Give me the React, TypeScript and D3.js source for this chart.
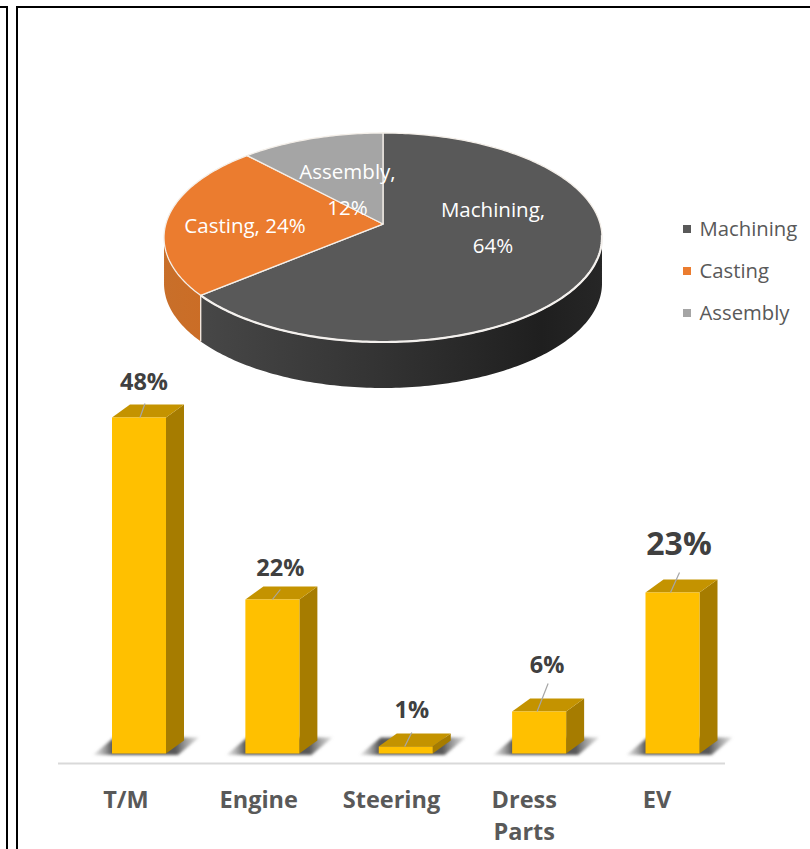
import React from "react";
import * as d3 from "d3";

const pieNames = ["Machining", "Casting", "Assembly"];
const pieValues = [64, 24, 12];
const pieColors = ["#595959", "#eb7c2f", "#a5a5a5"];
const wallFills = ["url(#wallDark)", "url(#wallOrange)", "#7c7c7c"];
const barCategories = ["T/M", "Engine", "Steering", "Dress Parts", "EV"];
const barValues = [48, 22, 1, 6, 23];

const FONT = "'Open Sans', 'Noto Sans', sans-serif";
const cx = 383, cy = 237.5, rx = 219, ry = 104.5, tilt = 0.129, wall = 46;
const project = (a: number): [number, number] => {
  const x = Math.sin(a), y = -Math.cos(a);
  const d = 1 - tilt * y;
  return [cx + rx * (x * Math.sqrt(1 - tilt * tilt)) / d, cy + ry * (y - tilt) / d];
};
const apex: [number, number] = [cx, cy - ry * tilt];
const slices = d3.pie<number>().sort(null)(pieValues);
const line = d3.line();
const arcPts = (s: number, e: number) => {
  const n = Math.max(2, Math.ceil((e - s) * 60));
  return d3.range(n + 1).map((i) => project(s + ((e - s) * i) / n));
};

const xBar = d3.scalePoint<string>().domain(barCategories).range([126, 659.5]);
const xLabel = d3.scalePoint<string>().domain(barCategories).range([126, 657]);
const baseY = 753.5;
const y = d3.scaleLinear().domain([0, 48]).range([baseY, 417.5]);
const halfW = 27, shift = 13, dx = 18, dy = 13;
// label placement relative to the front face of each bar
const labelOffset = [
  { lx: 5, ly: -28, size: 23.5, from: [1, 0], to: [6, -14] },
  { lx: 8, ly: -24, size: 23.5, from: [0, 0], to: [8, -10] },
  { lx: 6, ly: -29, size: 23.5, from: [-1, 0], to: [6, -14] },
  { lx: 8, ly: -39, size: 23.5, from: [-2, 0], to: [9, -28] },
  { lx: 6.5, ly: -38, size: 32, from: [-2, 0], to: [7, -20] },
];
const pieLabels = [
  { lines: ["Machining,", "64%"], x: 493, y: [217, 253] },
  { lines: ["Casting, 24%"], x: 245, y: [233] },
  { lines: ["Assembly,", "12%"], x: 347.5, y: [179, 215] },
];

export default function App() {
  const rim = arcPts(slices[0].startAngle, slices[1].startAngle).filter((p) => p[1] >= cy - 4);
  return (
    <svg width={810} height={849} style={{ position: "absolute", left: 0, top: 0, display: "block", background: "#fff", fontFamily: FONT }}>
      <defs>
        <linearGradient id="wallDark" gradientUnits="userSpaceOnUse" x1={200} x2={602} y1={0} y2={0}>
          <stop offset="0" stopColor="#474747" />
          <stop offset="0.45" stopColor="#333333" />
          <stop offset="0.85" stopColor="#1f1f1f" />
          <stop offset="1" stopColor="#262626" />
        </linearGradient>
        <linearGradient id="wallOrange" gradientUnits="userSpaceOnUse" x1={164} x2={202} y1={0} y2={0}>
          <stop offset="0" stopColor="#c86f2a" />
          <stop offset="1" stopColor="#cb6d26" />
        </linearGradient>
        <linearGradient id="shadowG" x1="0" x2="1" y1="0" y2="0">
          <stop offset="0" stopColor="#999" stopOpacity="0.2" />
          <stop offset="0.18" stopColor="#4f4f4f" stopOpacity="0.95" />
          <stop offset="0.78" stopColor="#4f4f4f" stopOpacity="0.95" />
          <stop offset="1" stopColor="#888" stopOpacity="0.25" />
        </linearGradient>
        <filter id="blur" x="-20%" y="-50%" width="140%" height="200%">
          <feGaussianBlur stdDeviation="1.6" />
        </filter>
      </defs>

      {/* page frames */}
      <path d="M0 7H7V849" fill="none" stroke="#000" strokeWidth={2} />
      <path d="M810 7H17V849" fill="none" stroke="#000" strokeWidth={2} />

      {/* pie walls */}
      {slices.map((s, i) => {
        const top = arcPts(s.startAngle, s.endAngle).filter((p) => p[1] >= cy);
        if (top.length < 2) return null;
        const bottom = top.map(([a, b]) => [a, b + wall] as [number, number]).reverse();
        return <path key={i} d={line([...top, ...bottom])! + "Z"} fill={wallFills[i]} />;
      })}
      {(() => {
        const p = project(slices[0].endAngle);
        return <line x1={p[0]} x2={p[0]} y1={p[1]} y2={p[1] + wall} stroke="#f3e6dc" strokeWidth={1.4} />;
      })()}
      {/* pie top */}
      {slices.map((s, i) => (
        <path key={i} d={line([apex, ...arcPts(s.startAngle, s.endAngle)])! + "Z"} fill={pieColors[i]} stroke="#f4efe9" strokeWidth={1.3} strokeLinejoin="round" />
      ))}
      <path d={line(rim)!} fill="none" stroke="#f4f1ee" strokeWidth={2.2} />
      {pieLabels.map((l, i) =>
        l.lines.map((t, j) => (
          <text key={i + "-" + j} x={l.x} y={l.y[j]} textAnchor="middle" fontSize={20.5} fill="#fff">{t}</text>
        ))
      )}

      {/* legend */}
      {pieNames.map((n, i) => (
        <g key={n}>
          <rect x={683} y={225 + i * 42} width={8} height={8} fill={pieColors[i]} />
          <text x={699.5} y={236 + i * 42} fontSize={20.3} fill="#595959">{n}</text>
        </g>
      ))}

      {/* axis */}
      <line x1={58} x2={725} y1={763.5} y2={763.5} stroke="#d9d9d9" strokeWidth={1.8} />

      {/* bars */}
      {barCategories.map((c, i) => {
        const v = barValues[i];
        const x0 = xBar(c)! + shift - halfW, x1 = xBar(c)! + shift + halfW, t = y(v);
        const o = labelOffset[i];
        const mid = (x0 + x1) / 2;
        return (
          <g key={c}>
            <path d={line([[x0 - 19, baseY + 1.5], [x0 + 2, baseY - 16], [x1 + 33, baseY - 16], [x1 + 12, baseY + 1.5]])! + "Z"} fill="url(#shadowG)" filter="url(#blur)" />
            <path d={line([[x1, t], [x1 + dx, t - dy], [x1 + dx, baseY - dy], [x1, baseY]])! + "Z"} fill="#a67c00" />
            <path d={line([[x0, t], [x0 + dx, t - dy], [x1 + dx, t - dy], [x1, t]])! + "Z"} fill="#c49300" />
            <rect x={x0} y={t} width={x1 - x0} height={baseY - t} fill="#ffc000" />
            <line x1={mid + o.from[0]} y1={t + o.from[1]} x2={mid + o.to[0]} y2={t + o.to[1]} stroke="#a6a6a6" strokeWidth={1.2} />
            <text x={mid + o.lx} y={t + o.ly} textAnchor="middle" fontSize={o.size} fontWeight={700} fill="#404040">{v}%</text>
          </g>
        );
      })}
      {barCategories.map((c) => {
        const words = c === "Dress Parts" ? ["Dress", "Parts"] : [c];
        return words.map((w, j) => (
          <text key={w} x={xLabel(c)!} y={808 + j * 32} textAnchor="middle" fontSize={23.5} fontWeight={700} fill="#595959">{w}</text>
        ));
      })}
    </svg>
  );
}
